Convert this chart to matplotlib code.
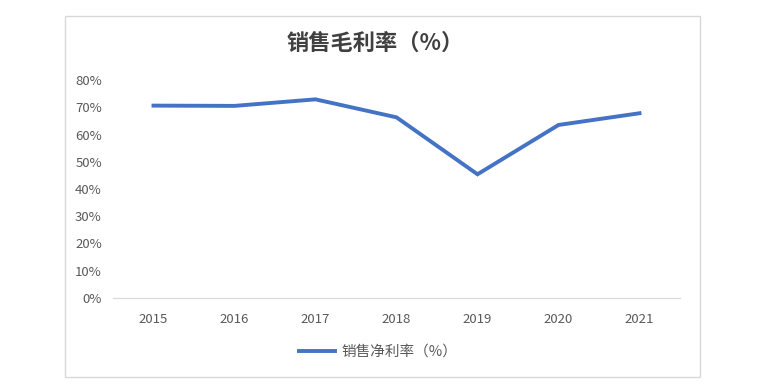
import matplotlib
matplotlib.use("Agg")
import matplotlib.pyplot as plt
from matplotlib.patches import Rectangle
from matplotlib.ticker import FuncFormatter

plt.rcParams['font.family'] = ['Noto Sans CJK SC', 'DejaVu Sans']

years = ['2015', '2016', '2017', '2018', '2019', '2020', '2021']
net_margin = [70.6, 70.5, 72.9, 66.3, 45.4, 63.5, 67.8]
y_ticks = [0, 10, 20, 30, 40, 50, 60, 70, 80]

title = '销售毛利率（%）'
series_name = '销售净利率（%）'

fig = plt.figure(figsize=(7.76, 3.88), dpi=100)
fig.patches.append(Rectangle((65 / 776, 11 / 388), 635 / 776, 361 / 388,
                             transform=fig.transFigure, fill=False,
                             edgecolor='#d9d9d9', linewidth=1))

ax = fig.add_axes([113 / 776, 90 / 388, 567 / 776, 218 / 388])
x = range(len(years))
line, = ax.plot(x, net_margin, color='#4472c4', linewidth=2.8,
                solid_joinstyle='miter')

ax.set_xlim(-0.5, len(years) - 0.5)
ax.set_ylim(0, 80)
ax.set_xticks(list(x))
ax.set_xticklabels(years)
ax.set_yticks(y_ticks)
ax.yaxis.set_major_formatter(FuncFormatter(lambda v, p: f'{v:.0f}%'))
ax.tick_params(length=0, labelsize=9.5, labelcolor='#595959')
ax.tick_params(axis='x', pad=11)
ax.tick_params(axis='y', pad=8)
for side in ['top', 'right', 'left']:
    ax.spines[side].set_visible(False)
ax.spines['bottom'].set_color('#d9d9d9')

fig.text(375 / 776, 1 - 43 / 388, title, ha='center', va='center',
         fontsize=16, fontweight='bold', color='#404040')

fig.legend([line], [series_name], loc='center', bbox_to_anchor=(378 / 776, 1 - 352 / 388),
           frameon=False, fontsize=10.5, labelcolor='#595959',
           handlelength=2.5, handletextpad=0.4)

fig.savefig('out.png', dpi=100)
